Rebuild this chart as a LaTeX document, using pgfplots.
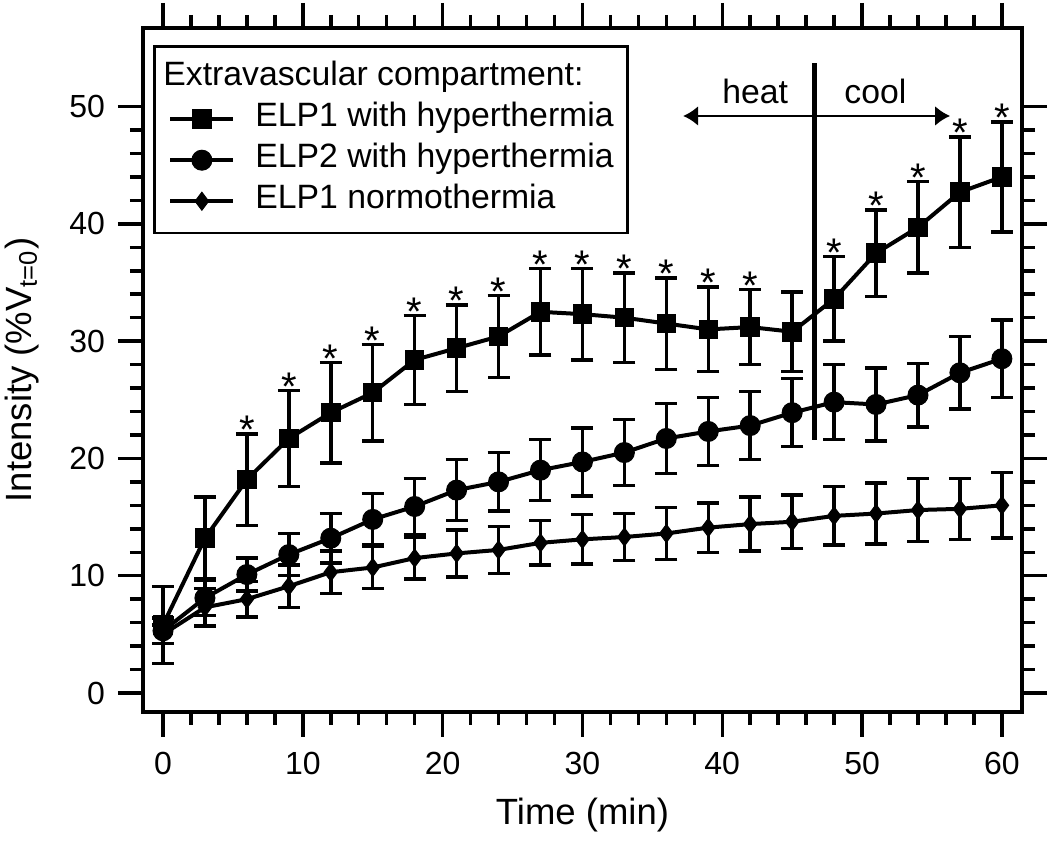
\documentclass[border=0pt]{standalone}
\usepackage{fontspec}
\setmainfont{Liberation Sans}
\usepackage{pgfplots}
\pgfplotsset{compat=1.18}
\usepackage{pgfplotstable}
\usetikzlibrary{calc,arrows.meta}

\pgfplotstableread{
t y e s
0 5.8 3.3 0
3 13.2 3.5 0
6 18.2 3.9 1
9 21.7 4.1 1
12 23.9 4.3 1
15 25.6 4.1 1
18 28.4 3.8 1
21 29.4 3.7 1
24 30.4 3.5 1
27 32.5 3.7 1
30 32.3 3.9 1
33 32.0 3.8 1
36 31.5 3.9 1
39 31.0 3.6 1
42 31.2 3.2 1
45 30.8 3.4 0
48 33.6 3.6 1
51 37.5 3.7 1
54 39.7 3.9 1
57 42.7 4.7 1
60 44.0 4.7 1
}\elpA

\pgfplotstableread{
t y e
0 5.3 1.1
3 8.1 1.5
6 10.1 1.4
9 11.8 1.8
12 13.2 2.1
15 14.8 2.2
18 15.9 2.4
21 17.3 2.6
24 18.0 2.5
27 19.0 2.6
30 19.7 2.9
33 20.5 2.8
36 21.7 3.0
39 22.3 2.9
42 22.8 2.9
45 23.9 2.9
48 24.8 3.2
51 24.6 3.1
54 25.4 2.7
57 27.3 3.1
60 28.5 3.3
}\elpB

\pgfplotstableread{
t y e
0 5.0 0.8
3 7.3 1.6
6 8.0 1.5
9 9.1 1.8
12 10.3 1.8
15 10.7 1.8
18 11.5 1.8
21 11.9 2.0
24 12.2 2.0
27 12.8 1.9
30 13.1 2.1
33 13.3 2.0
36 13.6 2.2
39 14.1 2.1
42 14.4 2.3
45 14.6 2.3
48 15.1 2.5
51 15.3 2.6
54 15.6 2.7
57 15.7 2.6
60 16.0 2.8
}\elpC

\begin{document}
\begin{tikzpicture}
\begin{axis}[
  name=ax,
  scale only axis,
  width=351.6pt, height=273.6pt,
  xmin=-1.43, xmax=61.44, ymin=-1.62, ymax=56.7,
  axis line style={line width=1.6pt},
  xtick={0,10,...,60}, ytick={0,10,...,50},
  minor x tick num=4, minor y tick num=4,
  tick align=outside,
  major tick length=10pt, minor tick length=5.2pt,
  tick style={black, line width=1.4pt},
  /pgf/number format/assume math mode=true,
  tick label style={font=\fontsize{12.8}{15}\selectfont},
  xticklabel style={yshift=-2.5pt},
  yticklabel style={xshift=-1.7pt},
  xlabel={Time (min)},
  ylabel={Intensity (\%V\textsubscript{t=0})},
  label style={font=\fontsize{14.6}{17}\selectfont},
  xlabel style={at={(axis description cs:0.5,-0.165)}, anchor=base},
  ylabel style={at={(axis description cs:-0.1377,0.5)}, anchor=center},
  legend style={at={(axis description cs:0.0114,0.975)}, anchor=north west,
    draw=black, line width=1.1pt, fill=white,
    font=\fontsize{13.5}{16}\selectfont,
    inner xsep=5.6pt, inner ysep=4.5pt,
    column sep=8pt, row sep=0pt,
    nodes={inner xsep=0pt, inner ysep=0pt, text height=11pt, text depth=5.4pt}},
  legend cell align=left,
  legend image code/.code={\draw[mark repeat=2,mark phase=2] plot coordinates {(0pt,0pt) (12.6pt,0pt) (25.2pt,0pt)};},
  every axis plot/.append style={black, line width=1.6pt},
]
\addlegendimage{empty legend}
\addlegendentry{\hspace*{-36.8pt}Extravascular compartment:}

\addplot[mark=square*, mark size=3.7pt, mark options={line width=0.4pt, fill=black},
  error bars/.cd, y dir=both, y explicit, error mark=-,
  error bar style={line width=1.4pt},
  error mark options={rotate=90, line width=1.4pt, mark size=4.4pt, black}]
  table[x=t, y=y, y error=e] {\elpA};
\addlegendentry{ELP1 with hyperthermia}

\addplot[mark=*, mark size=4.0pt, mark options={line width=0.4pt, fill=black},
  error bars/.cd, y dir=both, y explicit, error mark=-,
  error bar style={line width=1.4pt},
  error mark options={rotate=90, line width=1.4pt, mark size=4.4pt, black}]
  table[x=t, y=y, y error=e] {\elpB};
\addlegendentry{ELP2 with hyperthermia}

\addplot[mark=diamond*, mark size=3.6pt, mark options={line width=0.4pt, fill=black},
  error bars/.cd, y dir=both, y explicit, error mark=-,
  error bar style={line width=1.4pt},
  error mark options={rotate=90, line width=1.4pt, mark size=4.4pt, black}]
  table[x=t, y=y, y error=e] {\elpC};
\addlegendentry{ELP1 normothermia}

\addplot[draw=none, mark=none, forget plot,
  restrict expr to domain={\thisrow{s}}{0.5:1.5},
  nodes near coords={*},
  every node near coord/.append style={anchor=base, yshift=-3.9pt, inner sep=0pt,
    font=\fontsize{16}{18}\selectfont}]
  table[x=t, y expr=\thisrow{y}+\thisrow{e}] {\elpA};

\draw[line width=2.2pt] (axis cs:46.6,21.6) -- (axis cs:46.6,53.7);
\draw[line width=1.1pt, {Latex[length=6pt,width=8pt]}-{Latex[length=6pt,width=8pt]}]
  (axis cs:37.2,49.2) -- (axis cs:56.3,49.2);
\node[anchor=base, font=\fontsize{13.5}{16}\selectfont, inner sep=0pt] at (axis cs:42.35,50.3) {heat};
\node[anchor=base, font=\fontsize{13.5}{16}\selectfont, inner sep=0pt] at (axis cs:50.95,50.3) {cool};
\end{axis}
\pgfresetboundingbox
\path[use as bounding box] ([shift={(-57.2pt,-51.6pt)}]ax.south west) rectangle ([shift={(11.2pt,11.2pt)}]ax.north east);
\end{tikzpicture}
\end{document}
